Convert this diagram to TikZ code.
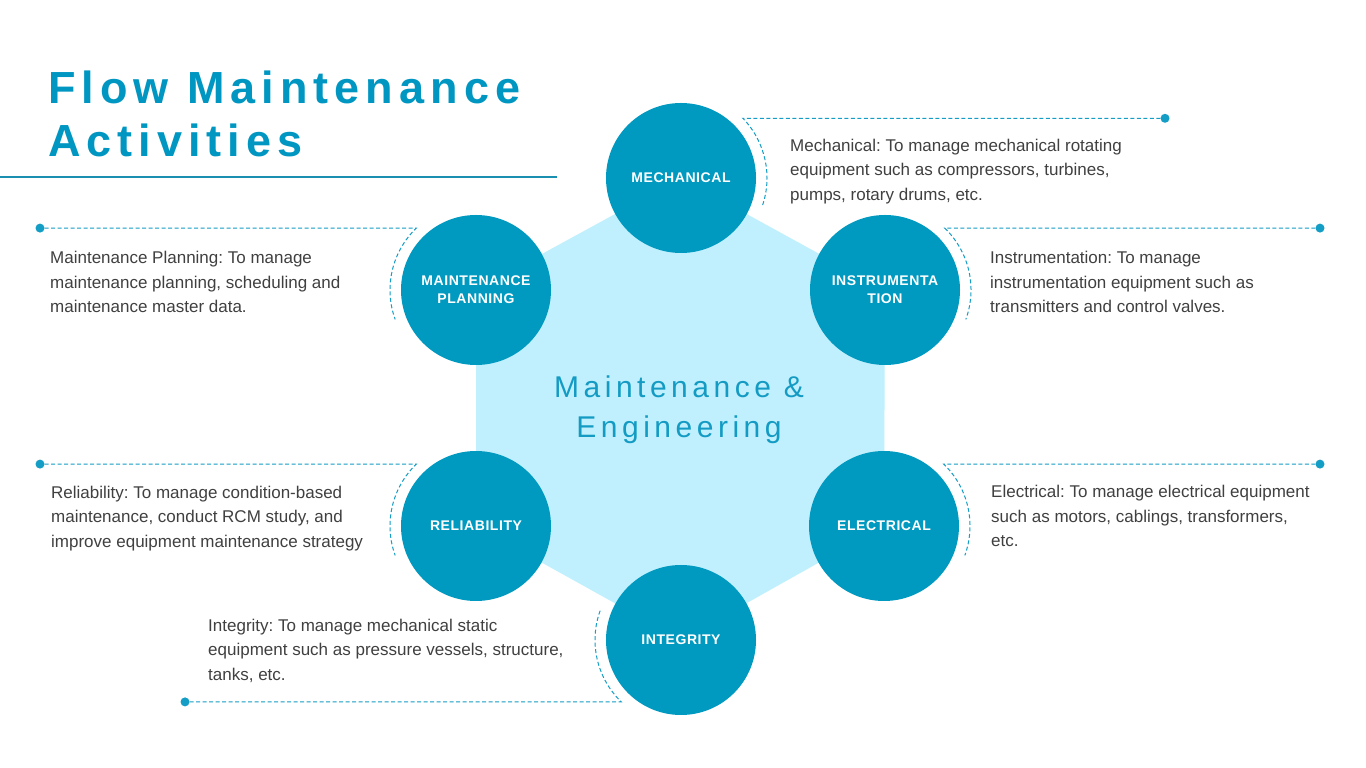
\documentclass[tikz,border=0pt]{standalone}
\usepackage{fontspec}
\setmainfont{Liberation Sans}
\newfontfamily\titlefont[LetterSpace=13.4]{Liberation Sans}
\newfontfamily\hubfont[LetterSpace=15]{Liberation Sans}
\newfontfamily\labfont[LetterSpace=4]{Liberation Sans}
\usetikzlibrary{calc}
\definecolor{mteal}{RGB}{0,153,192}
\definecolor{tteal}{RGB}{0,150,194}
\definecolor{cteal}{RGB}{20,155,196}
\definecolor{dteal}{RGB}{20,158,198}
\definecolor{ulc}{RGB}{26,143,176}
\definecolor{hexc}{RGB}{192,240,253}
\definecolor{dgray}{RGB}{64,64,64}
\frenchspacing
\begin{document}
\begin{tikzpicture}[x=1pt,y=1pt,
  hub/.style={circle, fill=mteal, minimum size=150pt, inner sep=0pt, text=white,
    font=\labfont\bfseries\fontsize{14}{18}\selectfont, align=center},
  dotnode/.style={circle, fill=dteal, minimum size=9pt, inner sep=0pt},
  conn/.style={draw=dteal, line width=1pt, dash pattern=on 4pt off 2.5pt},
  desc/.style={anchor=north west, inner sep=0pt, text=dgray,
    font=\frenchspacing\fontsize{17}{24.5}\selectfont, align=left},
  ttl/.style={anchor=base west, inner sep=0pt, text=tteal,
    font=\titlefont\bfseries\fontsize{45}{54}\selectfont}]
\useasboundingbox (0,0) rectangle (1366,768);
\fill[white] (0,0) rectangle (1366,768);

% centres
\coordinate (mechc) at (681,590);
\coordinate (instrc) at (885,478);
\coordinate (elecc) at (884,242);
\coordinate (integc) at (681,128);
\coordinate (relc) at (476,242);
\coordinate (planc) at (476,478);

% hexagon
\fill[hexc] (mechc) -- (instrc) -- (elecc) -- (integc) -- (relc) -- (planc) -- cycle;

% title
\node[ttl] (title1) at (48,664.7) {Flow Maintenance};
\node[ttl] (title2) at (48,611.3) {Activities};
\coordinate (ulA) at (0,591);
\coordinate (ulB) at (557,591);
\draw[ulc, line width=1.3pt] (ulA) -- (ulB);

% centre text
\node[anchor=north, inner sep=0pt, text=cteal, font=\hubfont\fontsize{30}{40}\selectfont, align=center]
  (centre) at (679,392.5) {Maintenance \&\\Engineering};

% circles
\node[hub] (mech) at (mechc) {MECHANICAL};
\node[hub] (instr) at (instrc) {INSTRUMENTA\\TION};
\node[hub] (elec) at (elecc) {ELECTRICAL};
\node[hub] (integ) at (integc) {INTEGRITY};
\node[hub] (rel) at (relc) {RELIABILITY};
\node[hub] (plan) at (planc) {MAINTENANCE\\PLANNING};

% connector start points
\coordinate (mechA) at ($(mechc)+(44:86pt)$);
\coordinate (instrA) at ($(instrc)+(46:86pt)$);
\coordinate (elecA) at ($(elecc)+(46:86pt)$);
\coordinate (planA) at ($(planc)+(134:86pt)$);
\coordinate (relA) at ($(relc)+(134:86pt)$);
\coordinate (integA) at ($(integc)+(226:86pt)$);

% dots
\node[dotnode] (mechd) at (1165,649.7) {};
\node[dotnode] (instrd) at (1320,539.9) {};
\node[dotnode] (elecd) at (1320,303.9) {};
\node[dotnode] (pland) at (40,539.9) {};
\node[dotnode] (reld) at (40,303.9) {};
\node[dotnode] (integd) at (185,66.1) {};

% connectors
\draw[conn] (mechd) -- (mechA) arc[start angle=44, end angle=-20, radius=86pt];
\draw[conn] (instrd) -- (instrA) arc[start angle=46, end angle=-20, radius=86pt];
\draw[conn] (elecd) -- (elecA) arc[start angle=46, end angle=-20, radius=86pt];
\draw[conn] (pland) -- (planA) arc[start angle=134, end angle=200, radius=86pt];
\draw[conn] (reld) -- (relA) arc[start angle=134, end angle=200, radius=86pt];
\draw[conn] (integd) -- (integA) arc[start angle=226, end angle=160, radius=86pt];

% descriptions
\node[desc] (mecht) at (790,629.2) {Mechanical: To manage mechanical rotating\\equipment such as compressors, turbines,\\pumps, rotary drums, etc.};
\node[desc] (instrt) at (990,516.7) {Instrumentation: To manage\\instrumentation equipment such as\\transmitters and control valves.};
\node[desc] (plant) at (50,516.7) {Maintenance Planning: To manage\\maintenance planning, scheduling and\\maintenance master data.};
\node[desc] (relt) at (51,282.2) {Reliability: To manage condition-based\\maintenance, conduct RCM study, and\\improve equipment maintenance strategy};
\node[desc] (elect) at (991,282.9) {Electrical: To manage electrical equipment\\such as motors, cablings, transformers,\\etc.};
\node[desc] (integt) at (208,149.2) {Integrity: To manage mechanical static\\equipment such as pressure vessels, structure,\\tanks, etc.};
\end{tikzpicture}
\end{document}
